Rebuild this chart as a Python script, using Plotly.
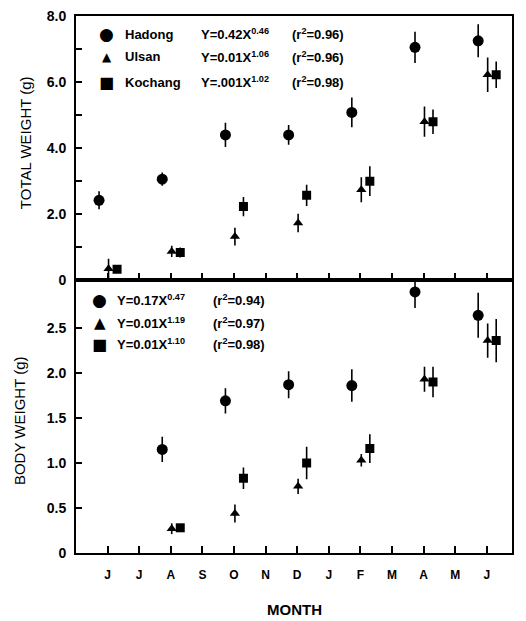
import plotly.graph_objects as go

# ---- data ----
months = ["J", "J", "A", "S", "O", "N", "D", "J", "F", "M", "A", "M", "J"]
month_pos = list(range(len(months)))
sample_idx = [0, 2, 4, 6, 8, 10, 12]

hadong_total = [2.42, 3.06, 4.40, 4.40, 5.08, 7.05, 7.25]
hadong_total_err = [0.27, 0.20, 0.37, 0.30, 0.45, 0.47, 0.50]
ulsan_total = [0.35, 0.87, 1.32, 1.73, 2.74, 4.80, 6.22]
ulsan_total_err = [0.30, 0.17, 0.27, 0.28, 0.38, 0.46, 0.52]
kochang_total = [0.33, 0.84, 2.23, 2.57, 3.00, 4.80, 6.22]
kochang_total_err = [0.05, 0.15, 0.29, 0.32, 0.45, 0.37, 0.40]

hadong_body = [None, 1.15, 1.69, 1.87, 1.86, 2.90, 2.64]
hadong_body_err = [None, 0.14, 0.14, 0.15, 0.18, 0.18, 0.25]
ulsan_body = [None, 0.27, 0.44, 0.74, 1.03, 1.93, 2.36]
ulsan_body_err = [None, 0.06, 0.10, 0.085, 0.07, 0.14, 0.19]
kochang_body = [None, 0.28, 0.83, 1.00, 1.16, 1.90, 2.36]
kochang_body_err = [None, 0.03, 0.12, 0.18, 0.16, 0.17, 0.24]

sites = ["Hadong", "Ulsan", "Kochang"]
total_eq = ["Y=0.42X<sup>0.46</sup>", "Y=0.01X<sup>1.06</sup>", "Y=.001X<sup>1.02</sup>"]
total_r2 = ["(r<sup>2</sup>=0.96)", "(r<sup>2</sup>=0.96)", "(r<sup>2</sup>=0.98)"]
body_eq = ["Y=0.17X<sup>0.47</sup>", "Y=0.01X<sup>1.19</sup>", "Y=0.01X<sup>1.10</sup>"]
body_r2 = ["(r<sup>2</sup>=0.94)", "(r<sup>2</sup>=0.97)", "(r<sup>2</sup>=0.98)"]

total_tickvals = [0, 1, 2, 3, 4, 5, 6, 7, 8]
total_ticklabels = ["0", " ", "2.0", " ", "4.0", " ", "6.0", " ", "8.0"]
body_tickvals = [0, 0.5, 1.0, 1.5, 2.0, 2.5]
body_ticklabels = ["0", "0.5", "1.0", "1.5", "2.0", "2.5"]

# ---- style ----
symbols = ["circle", "triangle-up", "square"]
sizes = [11, 9, 9]
glyphs = ["\u25CF", "\u25B2", "\u25A0"]
dodge = [-0.27, 0.03, 0.30]
FONT = "Liberation Sans, Arial, sans-serif"

fig = go.Figure()

totals = [(hadong_total, hadong_total_err), (ulsan_total, ulsan_total_err), (kochang_total, kochang_total_err)]
bodies = [(hadong_body, hadong_body_err), (ulsan_body, ulsan_body_err), (kochang_body, kochang_body_err)]

for i, name in enumerate(sites):
    xs = [m + dodge[i] for m in sample_idx]
    y, e = totals[i]
    fig.add_trace(go.Scatter(
        x=xs, y=y, mode="markers", name=name, showlegend=False,
        marker=dict(symbol=symbols[i], size=sizes[i], color="black"),
        error_y=dict(type="data", array=e, thickness=1.6, width=0, color="black"),
        xaxis="x2", yaxis="y2"))
    y, e = bodies[i]
    fig.add_trace(go.Scatter(
        x=xs, y=y, mode="markers", name=name, showlegend=False,
        marker=dict(symbol=symbols[i], size=sizes[i], color="black"),
        error_y=dict(type="data", array=e, thickness=1.6, width=0, color="black"),
        xaxis="x", yaxis="y"))

axis_common = dict(showline=True, linecolor="black", linewidth=2, mirror=True,
                   showgrid=False, zeroline=False, ticks="inside", tickcolor="black",
                   tickwidth=2, automargin=False, ticklabeloverflow="allow")

# page body has an 8px margin: figure is sized so the plot area lands at x 76-512, y 16-553
fig.update_layout(
    width=518, height=613,
    margin=dict(l=68, r=14, t=8, b=68, autoexpand=False),
    plot_bgcolor="white", paper_bgcolor="white",
    font=dict(family=FONT, color="black", size=13),
    xaxis=dict(**axis_common, domain=[0, 1], anchor="y", range=[-1.0, 12.8],
               tickmode="array", tickvals=month_pos, ticktext=months, ticklen=7,
               tickfont=dict(size=12, family=FONT, weight="bold"), ticklabelstandoff=10),
    xaxis2=dict(**axis_common, domain=[0, 1], anchor="y2", matches="x",
                tickmode="array", tickvals=month_pos, ticklen=7, showticklabels=False),
    yaxis=dict(**axis_common, domain=[0, 0.508], anchor="x", range=[0, 3.03],
               tickmode="array", tickvals=body_tickvals, ticktext=body_ticklabels, ticklen=6,
               tickfont=dict(size=14, family=FONT, weight="bold"), ticklabelstandoff=5),
    yaxis2=dict(**axis_common, domain=[0.508, 1], anchor="x2", range=[0, 8.0],
                tickmode="array", tickvals=total_tickvals, ticktext=total_ticklabels, ticklen=6,
                tickfont=dict(size=14, family=FONT, weight="bold"), ticklabelstandoff=5),
)

ann = []


def add_text(text, x, y, size, xanchor="left", weight="bold", family=FONT, angle=0):
    ann.append(dict(text=text, x=x, y=y, xref="paper", yref="paper", showarrow=False,
                    xanchor=xanchor, yanchor="middle", textangle=angle,
                    font=dict(size=size, family=family, weight=weight, color="black")))


# axis titles
add_text("TOTAL WEIGHT (g)", -0.117, 0.765, 15, xanchor="center", weight="normal", angle=-90)
add_text("BODY WEIGHT (g)", -0.128, 0.246, 15, xanchor="center", weight="normal", angle=-90)
add_text("MONTH", 0.502, -0.106, 15, xanchor="center")

# top legend
top_rows = [0.966, 0.924, 0.877]
for i in range(3):
    yy = top_rows[i]
    add_text(glyphs[i], 0.071, yy, [17, 12, 16][i], xanchor="center", weight="normal", family="DejaVu Sans")
    add_text(sites[i], 0.108, yy, 13)
    add_text(total_eq[i], 0.283, yy, 13)
    add_text(total_r2[i], 0.49, yy, 13)

# bottom legend
bot_rows = [0.471, 0.428, 0.389]
for i in range(3):
    yy = bot_rows[i]
    add_text(glyphs[i], 0.055, yy, [17, 15, 16][i], xanchor="center", weight="normal", family="DejaVu Sans")
    add_text(body_eq[i], 0.09, yy, 13)
    add_text(body_r2[i], 0.31, yy, 13)

fig.update_layout(annotations=ann)

fig.write_html("out.html")
